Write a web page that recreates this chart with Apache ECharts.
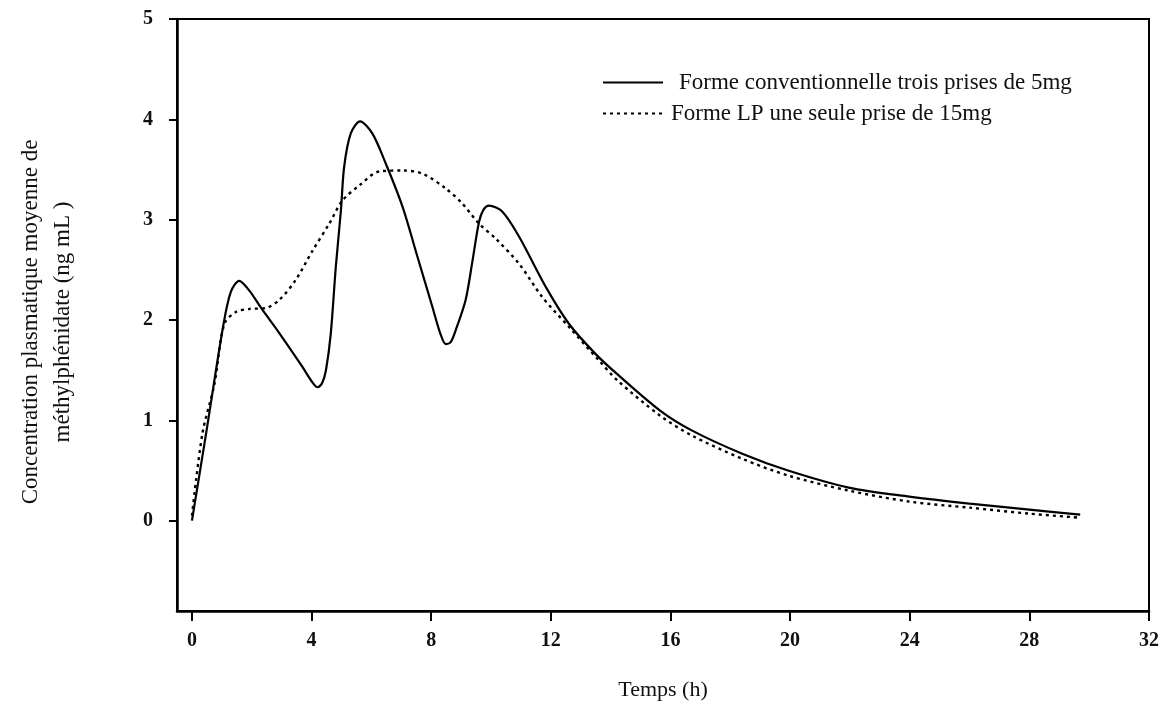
<!DOCTYPE html>
<html>
<head>
<meta charset="utf-8">
<title>Concentration plasmatique</title>
<script src="https://cdn.jsdelivr.net/npm/echarts@6/dist/echarts.min.js"></script>
<style>
    html, body { margin: 0; padding: 0; background: #fff; }
    #chart { width: 1163px; height: 713px; }
</style>
</head>
<body>
<div id="chart"></div>
<script>
// forme conventionnelle, 3 prises de 5mg (trait plein)
var convTime = [0, 0.5, 1.05, 1.3, 1.58, 1.9, 2.36, 2.92, 3.7, 4.0, 4.2, 4.35, 4.48, 4.64, 4.81, 4.98, 5.09, 5.31, 5.62, 6.03, 6.48, 7.04, 7.54, 8.04, 8.3, 8.49, 8.65, 8.82, 9.15, 9.38, 9.6, 9.75, 9.93, 10.38, 10.94, 11.83, 12.61, 13.5, 14.22, 15.64, 16.71, 18.38, 19.93, 21.96, 23.99, 26, 28, 29.7];
var convConc = [0, 0.92, 1.95, 2.28, 2.39, 2.3, 2.1, 1.87, 1.53, 1.39, 1.33, 1.37, 1.5, 1.86, 2.53, 3.09, 3.53, 3.86, 3.98, 3.86, 3.56, 3.13, 2.63, 2.13, 1.87, 1.76, 1.78, 1.9, 2.2, 2.59, 2.98, 3.1, 3.14, 3.08, 2.83, 2.33, 1.96, 1.66, 1.46, 1.1, 0.9, 0.67, 0.5, 0.33, 0.24, 0.17, 0.11, 0.06];

// forme LP, une seule prise de 15mg (pointillés)
var lpTime = [0, 0.35, 0.75, 1.08, 1.47, 1.91, 2.47, 2.92, 3.47, 4.03, 4.59, 5.03, 5.59, 6.26, 7.04, 7.7, 8.49, 9.04, 9.6, 10.16, 10.94, 11.71, 12.61, 13.6, 14.22, 15.64, 16.71, 18.38, 19.93, 21.96, 23.99, 26, 28, 29.7];
var lpConc = [0.05, 0.87, 1.36, 1.96, 2.08, 2.11, 2.12, 2.2, 2.4, 2.69, 2.96, 3.19, 3.34, 3.48, 3.49, 3.46, 3.31, 3.16, 2.96, 2.81, 2.56, 2.23, 1.93, 1.6, 1.4, 1.05, 0.85, 0.62, 0.45, 0.3, 0.19, 0.13, 0.07, 0.03];

var xTicks = [0, 4, 8, 12, 16, 20, 24, 28, 32];
var yTicks = [0, 1, 2, 3, 4, 5];

var seriesNames = ['Forme conventionnelle trois prises de 5mg', 'Forme LP une seule prise de 15mg'];

function pairs(xs, ys) {
    return xs.map(function (x, i) { return [x, ys[i]]; });
}

var serif = '"Liberation Serif", "DejaVu Serif", serif';
var chart = echarts.init(document.getElementById('chart'));

var option = {
    backgroundColor: '#fff',
    animation: false,
    grid: {
        left: 177,
        right: 14,
        top: 19,
        bottom: 102,
        show: true,
        borderColor: '#000',
        borderWidth: 2
    },
    legend: {
        orient: 'vertical',
        left: 597,
        top: 66,
        itemWidth: 60,
        itemHeight: 14,
        itemGap: 8,
        itemStyle: { opacity: 0 },
        textStyle: { fontFamily: serif, fontSize: 23, color: '#111' },
        data: [
            { name: seriesNames[0], textStyle: { padding: [0, 0, 0, 11] } },
            { name: seriesNames[1], textStyle: { padding: [0, 0, 0, 3] } }
        ]
    },
    xAxis: {
        type: 'value',
        min: -0.5,
        max: 32,
        name: 'Temps (h)',
        nameLocation: 'middle',
        nameGap: 68,
        nameTextStyle: { fontFamily: serif, fontSize: 22, color: '#111' },
        axisLine: { onZero: false, lineStyle: { color: '#000', width: 2.5 } },
        axisTick: { customValues: xTicks, length: 10, lineStyle: { color: '#000', width: 2 } },
        axisLabel: {
            customValues: xTicks,
            margin: 20,
            fontFamily: serif,
            fontSize: 20,
            fontWeight: 'bold',
            color: '#111'
        },
        splitLine: { show: false }
    },
    yAxis: {
        type: 'value',
        min: -0.9,
        max: 5,
        axisLine: { onZero: false, lineStyle: { color: '#000', width: 2.5 } },
        axisTick: { customValues: yTicks, length: 8, lineStyle: { color: '#000', width: 2 } },
        axisLabel: {
            customValues: yTicks,
            margin: 24,
            fontFamily: serif,
            fontSize: 20,
            fontWeight: 'bold',
            color: '#111'
        },
        splitLine: { show: false }
    },
    graphic: [{
        type: 'text',
        x: 47,
        y: 322,
        rotation: Math.PI / 2,
        style: {
            text: 'Concentration plasmatique moyenne de\nméthylphénidate (ng mL )',
            font: '23px ' + serif,
            fill: '#111',
            align: 'center',
            verticalAlign: 'middle',
            lineHeight: 32
        }
    }],
    series: [
        {
            name: seriesNames[0],
            type: 'line',
            data: pairs(convTime, convConc),
            smooth: 0.3,
            symbol: 'none',
            lineStyle: { color: '#000', width: 2.2, type: 'solid' },
            itemStyle: { color: '#000' }
        },
        {
            name: seriesNames[1],
            type: 'line',
            data: pairs(lpTime, lpConc),
            smooth: 0.3,
            symbol: 'none',
            lineStyle: { color: '#000', width: 2.4, type: [3, 4] },
            itemStyle: { color: '#000' }
        }
    ]
};

chart.setOption(option);
</script>
</body>
</html>
